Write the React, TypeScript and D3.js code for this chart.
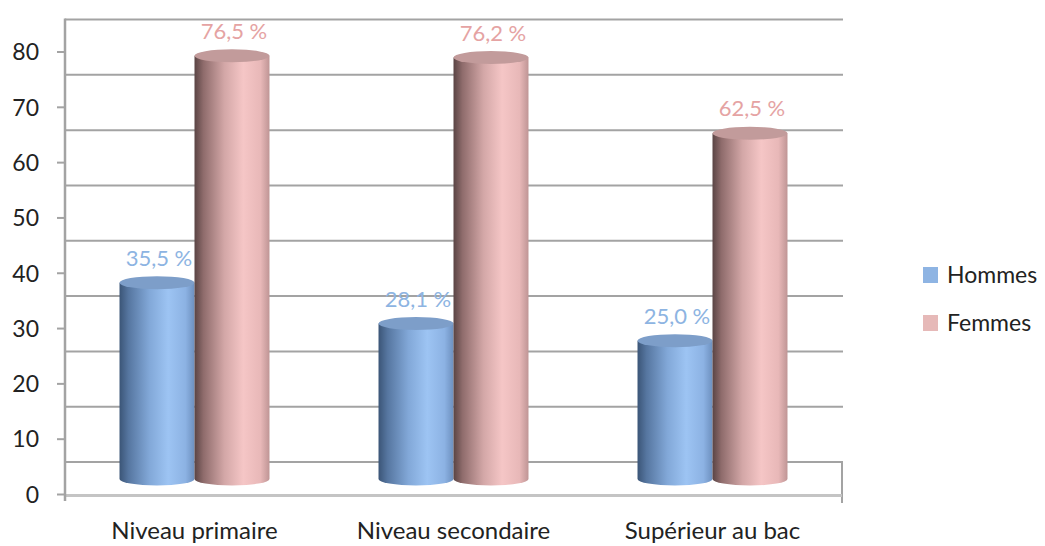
import React from "react";
import * as d3 from "d3";

const categories = ["Niveau primaire", "Niveau secondaire", "Supérieur au bac"];
const seriesNames = ["Hommes", "Femmes"];
const hommes = [35.5, 28.1, 25.0];
const femmes = [76.5, 76.2, 62.5];
const labelsHommes = ["35,5 %", "28,1 %", "25,0 %"];
const labelsFemmes = ["76,5 %", "76,2 %", "62,5 %"];
const yTicks = [0, 10, 20, 30, 40, 50, 60, 70, 80];

const W = 1045;
const H = 546;
const FONT = "Lato, 'Liberation Sans', Arial, sans-serif";

// Front axis scale; the back wall and the bar bases sit deeper in the 3D box.
const yFront = d3.scaleLinear().domain([0, 80]).range([494.5, 52]);
const BACK_DY = -32.5;
const BAR_DY = -15.5;
const yBack = (v: number) => yFront(v) + BACK_DY;
const yBar = (v: number) => yFront(v) + BAR_DY;

const x0 = d3.scaleBand<string>().domain(categories).range([65, 842]).padding(0);
const x1 = d3
  .scaleBand<string>()
  .domain(seriesNames)
  .range([0, x0.bandwidth()])
  .paddingInner(0)
  .paddingOuter(0.727);

const palettes: Record<string, { stops: [number, string][]; top: string; label: string; legend: string }> = {
  Hommes: {
    stops: [
      [0, "#3b5577"],
      [0.12, "#5676a0"],
      [0.4, "#82a8d8"],
      [0.65, "#9dc4f3"],
      [0.88, "#8cb2e3"],
      [1, "#6d90bf"],
    ],
    top: "#7d9ec9",
    label: "#8db4e2",
    legend: "#8eb4e3",
  },
  Femmes: {
    stops: [
      [0, "#5a4444"],
      [0.12, "#8f6c6c"],
      [0.4, "#d3a7a7"],
      [0.65, "#f5c6c6"],
      [0.88, "#e8b8b8"],
      [1, "#bf9595"],
    ],
    top: "#c29b9b",
    label: "#e5a3a3",
    legend: "#e6b9b8",
  },
};

const RY = 6.5;

export default function App() {
  const values: Record<string, number[]> = { Hommes: hommes, Femmes: femmes };
  const labels: Record<string, string[]> = { Hommes: labelsHommes, Femmes: labelsFemmes };

  return (
    <svg width={W} height={H} style={{ display: "block", position: "absolute", left: 0, top: 0 }}>
      <defs>
        {seriesNames.map((s) => (
          <linearGradient key={s} id={`grad-${s}`} x1="0" x2="1" y1="0" y2="0">
            {palettes[s].stops.map(([o, c], i) => (
              <stop key={i} offset={o} stopColor={c} />
            ))}
          </linearGradient>
        ))}
      </defs>
      <rect width={W} height={H} fill="#ffffff" />

      {/* back wall gridlines */}
      {yTicks.map((t) => (
        <line key={`g${t}`} x1={65} x2={843} y1={yBack(t)} y2={yBack(t)} stroke="#a3a3a3" strokeWidth={2} />
      ))}
      {/* right wall edge */}
      <line x1={842} x2={842} y1={yBack(0)} y2={503} stroke="#a3a3a3" strokeWidth={2} />
      {/* floor front edge */}
      <line x1={65} x2={842} y1={yFront(0) + 1} y2={yFront(0) + 1} stroke="#c4c4c4" strokeWidth={3} />
      {/* value axis */}
      <line x1={65} x2={65} y1={yBack(80) - 1} y2={501} stroke="#a3a3a3" strokeWidth={2.5} />
      {yTicks.map((t) => (
        <g key={`t${t}`}>
          <line x1={57} x2={65} y1={yFront(t)} y2={yFront(t)} stroke="#a3a3a3" strokeWidth={2} />
          <text x={39} y={yFront(t)} dy="0.36em" textAnchor="end" fontFamily={FONT} fontSize={23} fill="#222">
            {t}
          </text>
        </g>
      ))}

      {/* cylinders */}
      {categories.map((c, ci) =>
        seriesNames.map((s) => {
          const v = values[s][ci];
          const x = (x0(c) ?? 0) + (x1(s) ?? 0);
          const w = x1.bandwidth();
          const cx = x + w / 2;
          const yt = yBar(v);
          const yb = yBar(0);
          const p = palettes[s];
          return (
            <g key={`${c}-${s}`}>
              <path
                d={`M${x},${yt} L${x},${yb} A${w / 2},${RY} 0 0 0 ${x + w},${yb} L${x + w},${yt} Z`}
                fill={`url(#grad-${s})`}
              />
              <ellipse cx={cx} cy={yt} rx={w / 2} ry={RY} fill={p.top} />
              <text
                x={cx + 2}
                y={yt - 17}
                textAnchor="middle"
                fontFamily={FONT}
                fontSize={22}
                fill={p.label}
              >
                {labels[s][ci]}
              </text>
            </g>
          );
        })
      )}

      {/* category labels */}
      {categories.map((c) => (
        <text
          key={c}
          x={(x0(c) ?? 0) + x0.bandwidth() / 2}
          y={539}
          textAnchor="middle"
          fontFamily={FONT}
          fontSize={24}
          fill="#222"
        >
          {c}
        </text>
      ))}

      {/* legend */}
      {seriesNames.map((s, i) => (
        <g key={s} transform={`translate(923, ${267 + i * 48})`}>
          <rect width={15} height={16} fill={palettes[s].legend} />
          <text x={24} y={8} dy="0.36em" fontFamily={FONT} fontSize={23} fill="#222">
            {s}
          </text>
        </g>
      ))}
    </svg>
  );
}
